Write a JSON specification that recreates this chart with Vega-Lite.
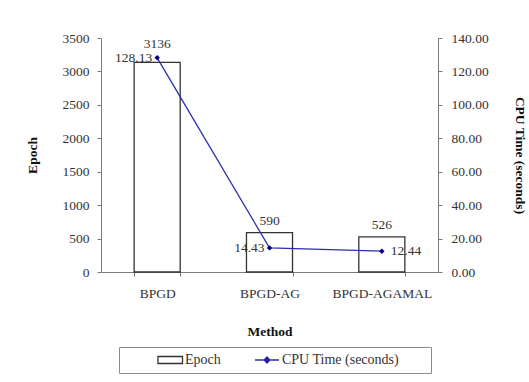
{
  "$schema": "https://vega.github.io/schema/vega-lite/v6.json",
  "width": 337,
  "height": 234,
  "autosize": "none",
  "padding": {"left": 101, "top": 38, "right": 91, "bottom": 110},
  "background": "white",
  "config": {
    "font": "Liberation Serif",
    "text": {"font": "Liberation Serif"},
    "view": {"stroke": null},
    "axis": {
      "domainColor": "#7a7a7a",
      "tickColor": "#7a7a7a",
      "labelFont": "Liberation Serif",
      "labelFontSize": 13.5,
      "labelColor": "#333333",
      "titleFont": "Liberation Serif",
      "titleFontSize": 13.5,
      "titleFontWeight": "bold",
      "titleColor": "#111111",
      "grid": false,
      "tickSize": 4
    },
    "legend": {
      "orient": "none",
      "legendX": 18,
      "legendY": 309,
      "direction": "horizontal",
      "padding": 6,
      "symbolSize": 100,
      "symbolStrokeWidth": 1.3,
      "labelFont": "Liberation Serif",
      "labelFontSize": 14,
      "labelColor": "#333333",
      "labelLimit": 400
    }
  },
  "data": {
    "values": [
      {"Method": "BPGD", "Epoch": 3136, "CPU": 128.13},
      {"Method": "BPGD-AG", "Epoch": 590, "CPU": 14.43},
      {"Method": "BPGD-AGAMAL", "Epoch": 526, "CPU": 12.44}
    ]
  },
  "encoding": {
    "x": {
      "field": "Method",
      "type": "nominal",
      "sort": null,
      "scale": {"paddingInner": 0.59, "paddingOuter": 0.295},
      "axis": {
        "title": "Method",
        "labelAngle": 0,
        "tickBand": "extent",
        "labelPadding": 10,
        "titlePadding": 25
      }
    }
  },
  "layer": [
    {
      "encoding": {
        "y": {
          "field": "Epoch",
          "type": "quantitative",
          "scale": {"domain": [0, 3500]},
          "axis": {
            "title": "Epoch",
            "orient": "left",
            "values": [0, 500, 1000, 1500, 2000, 2500, 3000, 3500],
            "format": "d",
            "labelPadding": 8,
            "titlePadding": 23
          }
        }
      },
      "layer": [
        {
          "mark": {"type": "bar", "fill": "white", "strokeWidth": 1.3},
          "encoding": {
            "stroke": {
              "datum": "Epoch",
              "type": "nominal",
              "scale": {"domain": ["Epoch"], "range": ["#333333"]},
              "legend": {
                "title": null,
                "symbolType": "M5.2,-0.7H10.1V0.7H5.2Z",
                "symbolFillColor": "white",
                "labelOffset": 46
              }
            }
          }
        },
        {
          "transform": [{"filter": "datum.Method != 'BPGD'"}],
          "mark": {"type": "text", "font": "Liberation Serif", "baseline": "alphabetic", "dy": -8, "fontSize": 13.5, "color": "#333333"},
          "encoding": {"text": {"field": "Epoch", "type": "quantitative", "format": "d"}}
        },
        {
          "transform": [{"filter": "datum.Method == 'BPGD'"}],
          "mark": {"type": "text", "font": "Liberation Serif", "baseline": "alphabetic", "dy": -14, "fontSize": 13.5, "color": "#333333"},
          "encoding": {"text": {"field": "Epoch", "type": "quantitative", "format": "d"}}
        }
      ]
    },
    {
      "encoding": {
        "y": {
          "field": "CPU",
          "type": "quantitative",
          "scale": {"domain": [0, 140]},
          "axis": {
            "title": "CPU Time (seconds)",
            "orient": "right",
            "values": [0, 20, 40, 60, 80, 100, 120, 140],
            "format": ".2f",
            "labelPadding": 9,
            "titlePadding": 24
          }
        }
      },
      "layer": [
        {
          "mark": {"type": "line", "strokeWidth": 1.3},
          "encoding": {
            "color": {
              "datum": "CPU Time (seconds)",
              "type": "nominal",
              "scale": {"domain": ["CPU Time (seconds)"], "range": ["#2e2eb0"]},
              "legend": {
                "title": null,
                "symbolType": "M24.6,0H29.4M27,-0.6L27.6,0L27,0.6L26.4,0ZM58,0",
                "symbolFillColor": "#000080",
                "labelOffset": 143,
                "strokeColor": "#8c8c8c",
                "fillColor": "transparent"
              }
            }
          }
        },
        {
          "mark": {"type": "point", "shape": "diamond", "filled": true, "size": 30, "color": "#000080", "opacity": 1}
        },
        {
          "transform": [{"filter": "datum.Method != 'BPGD-AGAMAL'"}],
          "mark": {"type": "text", "font": "Liberation Serif", "align": "right", "baseline": "middle", "dx": -5, "fontSize": 13.5, "color": "#333333"},
          "encoding": {"text": {"field": "CPU", "type": "quantitative", "format": ".2f"}}
        },
        {
          "transform": [{"filter": "datum.Method == 'BPGD-AGAMAL'"}],
          "mark": {"type": "text", "font": "Liberation Serif", "align": "left", "baseline": "middle", "dx": 9, "fontSize": 13.5, "color": "#333333"},
          "encoding": {"text": {"field": "CPU", "type": "quantitative", "format": ".2f"}}
        }
      ]
    }
  ],
  "resolve": {"scale": {"y": "independent"}}
}
